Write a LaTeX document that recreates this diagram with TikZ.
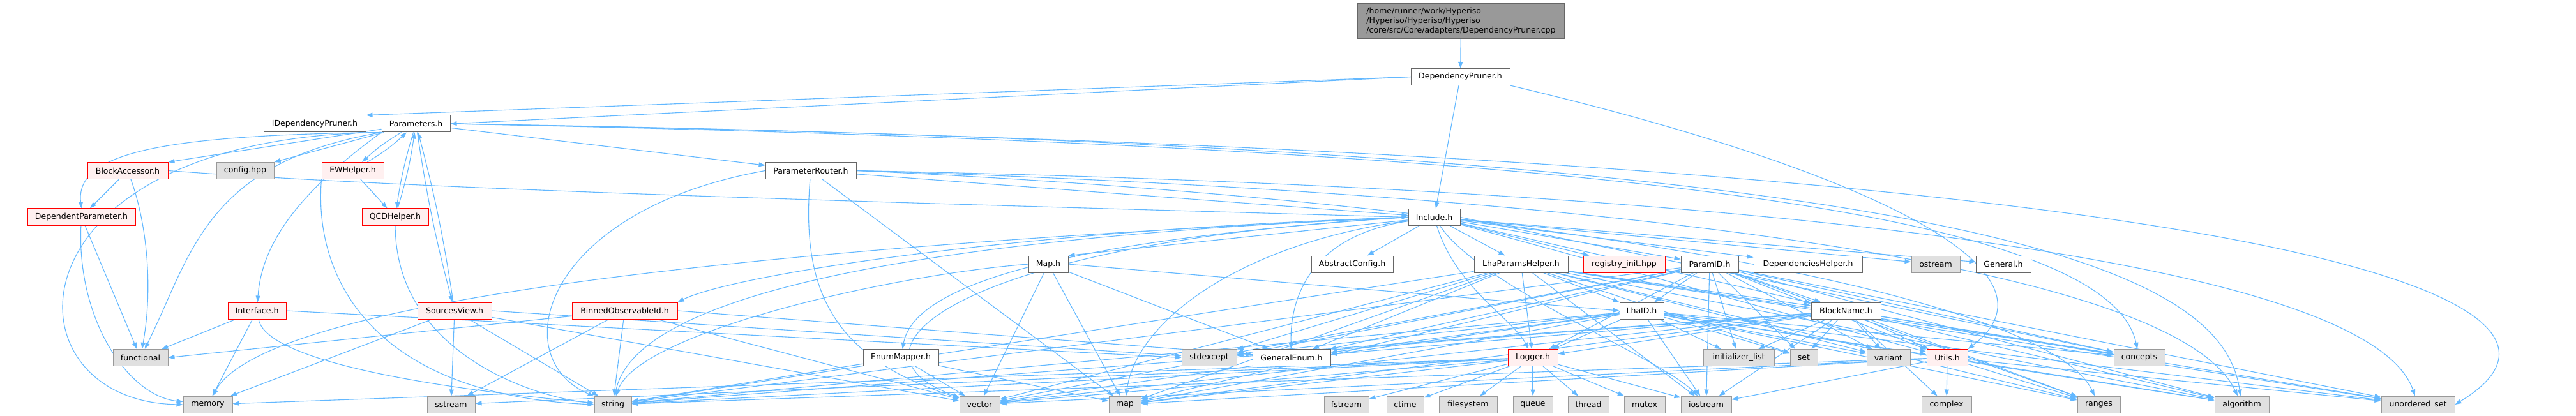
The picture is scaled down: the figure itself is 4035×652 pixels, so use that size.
\documentclass[tikz,border=0pt]{standalone}
\usepackage{fontspec}
\setmainfont{DejaVu Sans}
\usetikzlibrary{arrows.meta}
\definecolor{edgec}{HTML}{63B8FF}
\definecolor{redfill}{HTML}{FFF0F0}
\definecolor{reddraw}{HTML}{FF0000}
\definecolor{grayfill}{HTML}{E0E0E0}
\definecolor{graydraw}{HTML}{999999}
\definecolor{whitedraw}{HTML}{666666}
\definecolor{topfill}{HTML}{999999}
\pgfdeclarelayer{edgelayer}
\pgfsetlayers{edgelayer,main}
\begin{document}
\begin{tikzpicture}[x=1pt,y=-1pt,
  nb/.style={draw=whitedraw, fill=white, line width=1pt, minimum height=26pt, inner sep=2pt, font=\fontsize{12.5}{15}\selectfont},
  nr/.style={nb, draw=reddraw, fill=redfill},
  ng/.style={nb, draw=graydraw, fill=grayfill},
  e/.style={draw=edgec, line width=1.1pt, -{Triangle[length=10pt,width=7pt]}}]
\useasboundingbox (0,0) rectangle (4035,652);
% row 0
\node[nb, fill=topfill, align=left, anchor=north west, minimum width=324pt, minimum height=55pt] (top) at (2126,5) {/home/runner/work/Hyperiso\\/Hyperiso/Hyperiso/Hyperiso\\/core/src/Core/adapters/DependencyPruner.cpp};
\node[nb, minimum width=155pt] (dph) at (2287.5,120.5) {DependencyPruner.h};
% row 1
\node[nb, minimum width=160pt] (idp) at (493,194) {IDependencyPruner.h};
\node[nb, minimum width=107pt] (par) at (651.5,194) {Parameters.h};
% row 2
\node[nr, minimum width=126pt] (ba) at (200,267.5) {BlockAccessor.h};
\node[ng, minimum width=90pt] (cfg) at (384,267.5) {config.hpp};
\node[nr, minimum width=97pt] (ew) at (552.5,267.5) {EWHelper.h};
\node[nb, minimum width=142pt] (pr) at (1270,267.5) {ParameterRouter.h};
% row 3
\node[nr, minimum width=169pt] (depp) at (127.5,340) {DependentParameter.h};
\node[nr, minimum width=104pt] (qcd) at (619,340) {QCDHelper.h};
\node[nb, minimum width=81pt] (inc) at (2246.5,340.5) {Include.h};
% row 4
\node[nb, minimum width=62pt] (mapH) at (1642,414) {Map.h};
\node[nb, minimum width=128pt] (absc) at (2118,414) {AbstractConfig.h};
\node[nb, minimum width=147pt] (lph) at (2382.5,414) {LhaParamsHelper.h};
\node[nr, minimum width=128pt] (reg) at (2544,414) {registry\_init.hpp};
\node[nb, minimum width=90pt] (pid) at (2678,414) {ParamID.h};
\node[nb, minimum width=170pt] (deph) at (2832,414) {DependenciesHelper.h};
\node[ng, minimum width=76pt] (ostream) at (3032,414) {ostream};
\node[nb, minimum width=86pt] (general) at (3138,414) {General.h};
% row 5
\node[nr, minimum width=91pt] (intf) at (402.5,487) {Interface.h};
\node[nr, minimum width=116pt] (sv) at (712,487) {SourcesView.h};
\node[nr, minimum width=165pt] (boi) at (978.5,487) {BinnedObservableId.h};
\node[nb, minimum width=69pt] (lhaid) at (2571.5,487) {LhaID.h};
\node[nb, minimum width=109pt] (bname) at (2891.5,487) {BlockName.h};
% row 6
\node[ng, minimum width=86pt] (functional) at (220,560.5) {functional};
\node[nb, minimum width=118pt] (enumm) at (1411,560.5) {EnumMapper.h};
\node[ng, minimum width=86pt] (stdexcept) at (1894,560.5) {stdexcept};
\node[nb, minimum width=122pt] (gene) at (2023,560.5) {GeneralEnum.h};
\node[nr, minimum width=78pt] (logger) at (2401,560.5) {Logger.h};
\node[ng, minimum width=111pt] (initl) at (2723.5,560.5) {initializer\_list};
\node[ng, minimum width=43pt] (sset) at (2825.5,560.5) {set};
\node[ng, minimum width=68pt] (variant) at (2958,560.5) {variant};
\node[nr, minimum width=64pt] (utils) at (3050,560.5) {Utils.h};
\node[ng, minimum width=80pt] (concepts) at (3351,560.5) {concepts};
% row 7
\node[ng, minimum width=77pt] (memory) at (325.5,634) {memory};
\node[ng, minimum width=75pt] (sstream) at (706.5,634) {sstream};
\node[ng, minimum width=58pt] (sstring) at (960,634) {string};
\node[ng, minimum width=63pt] (svector) at (1534.5,634) {vector};
\node[ng, minimum width=50pt] (smap) at (1762,634) {map};
\node[ng, minimum width=70pt] (fstream) at (2109,634) {fstream};
\node[ng, minimum width=58pt] (ctime) at (2201,634) {ctime};
\node[ng, minimum width=91pt] (filesystem) at (2299.5,634) {filesystem};
\node[ng, minimum width=62pt] (queue) at (2401,634) {queue};
\node[ng, minimum width=64pt] (thread) at (2488,634) {thread};
\node[ng, minimum width=64pt] (mutex) at (2576,634) {mutex};
\node[ng, minimum width=79pt] (iostream) at (2672.5,634) {iostream};
\node[ng, minimum width=78pt] (complex) at (3049,634) {complex};
\node[ng, minimum width=67pt] (ranges) at (3287.5,634) {ranges};
\node[ng, minimum width=85pt] (algorithm) at (3511.5,634) {algorithm};
\node[ng, minimum width=115pt] (uset) at (3787.5,634) {unordered\_set};

\begin{pgfonlayer}{edgelayer}
% top / DependencyPruner.h
\draw[e] (top) -- (dph);
\draw[e] (dph.west) -- (idp.north east);
\draw[e] (dph.west) -- (par.east);
\draw[e] (dph) -- (inc);
\draw[e] (dph.south east) .. controls (2900,260) and (3250,420) .. (utils.north east);
% Parameters.h
\draw[e] (par) -- (ba.north east);
\draw[e] (par) -- (cfg.north east);
\draw[e] (par) to[bend right=6] (ew);
\draw[e] (ew) to[bend right=6] (par);
\draw[e] (par) to[bend right=4] (qcd);
\draw[e] (qcd) to[bend right=4] (par);
\draw[e] (par) to[bend right=3] (sv);
\draw[e] (sv) to[bend right=3] (par);
\draw[e] (par.south west) .. controls (470,300) and (410,380) .. (intf);
\draw[e] (par.south west) .. controls (250,212) and (118,240) .. (depp.north);
\draw[e] (par.south west) .. controls (0,215) and (0,630) .. (memory.west);
\draw[e] (par.south west) .. controls (320,255) and (300,400) .. (functional);
\draw[e] (par) -- (pr);
\draw[e] (par.east) .. controls (3700,245) and (4100,480) .. (uset.east);
\draw[e] (par.east) .. controls (3100,230) and (3480,420) .. (algorithm);
\draw[e] (par.east) .. controls (2500,230) and (3300,330) .. (concepts);
% EWHelper / QCDHelper
\draw[e] (ew) -- (qcd);
\draw[e] (ew.south west) .. controls (490,450) and (600,620) .. (sstring.west);
\draw[e] (qcd) .. controls (620,560) and (850,625) .. (sstring);
% BlockAccessor / DependentParameter
\draw[e] (ba) -- (depp);
\draw[e] (ba) .. controls (230,350) and (240,450) .. (functional);
\draw[e] (ba.east) .. controls (700,300) and (1500,320) .. (inc.west);
\draw[e] (depp) -- (functional);
\draw[e] (depp) .. controls (120,500) and (200,620) .. (memory);
% Interface / SourcesView / BinnedObservableId
\draw[e] (intf) -- (functional);
\draw[e] (intf) -- (memory);
\draw[e] (intf) .. controls (420,580) and (800,620) .. (sstring);
\draw[e] (intf.east) -- (stdexcept.west);
\draw[e] (sv) -- (memory);
\draw[e] (sv) -- (sstream);
\draw[e] (sv) -- (sstring);
\draw[e] (sv.east) -- (stdexcept);
\draw[e] (sv) -- (svector);
\draw[e] (boi) -- (functional.east);
\draw[e] (boi) -- (sstream);
\draw[e] (boi) -- (sstring);
\draw[e] (boi) -- (svector);
\draw[e] (boi.east) -- (gene);
% ParameterRouter
\draw[e] (pr) -- (inc);
\draw[e] (pr.west) .. controls (850,330) and (790,560) .. (sstring);
\draw[e] (pr) .. controls (1255,450) and (1300,560) .. (svector);
\draw[e] (pr) -- (smap);
\draw[e] (pr.east) .. controls (2500,290) and (3700,380) .. (uset);
\draw[e] (pr.east) .. controls (2400,300) and (3400,400) .. (algorithm);
\draw[e] (pr.east) .. controls (2300,310) and (3200,450) .. (ranges);
% Include.h
\foreach \t in {absc, lph, reg, pid, deph, ostream, general, bname, utils} \draw[e] (inc) -- (\t);
\draw[e] (inc) -- (mapH.north east);
\draw[e] (inc.west) .. controls (1600,360) and (1150,430) .. (boi.north east);
\draw[e] (inc.west) .. controls (1600,380) and (1430,460) .. (enumm);
\draw[e] (inc) .. controls (2050,370) and (2020,470) .. (gene);
\draw[e] (inc) .. controls (2280,450) and (2370,500) .. (logger);
\draw[e] (inc) .. controls (1950,380) and (1780,500) .. (smap);
\draw[e] (inc.west) .. controls (1500,380) and (1300,550) .. (svector);
\draw[e] (inc.west) .. controls (1500,370) and (1000,450) .. (sstring);
\draw[e] (inc.west) .. controls (900,400) and (400,500) .. (memory);
\draw[e] (inc) .. controls (2320,450) and (2600,560) .. (iostream);
\draw[e] (inc.east) -- (concepts);
% Map.h / EnumMapper.h
\foreach \t in {svector, smap, gene} \draw[e] (mapH) -- (\t);
\draw[e] (mapH.west) .. controls (1400,430) and (1000,520) .. (sstring);
\draw[e] (mapH.east) -- (lhaid.west);
\foreach \t in {svector, smap, sstring} \draw[e] (enumm) -- (\t);
% LhaParamsHelper.h
\foreach \t in {lhaid, logger, gene, stdexcept, svector, smap, sstring, iostream, bname, uset, algorithm, sset, variant, ranges, concepts} \draw[e] (lph) -- (\t);
% ParamID.h
\foreach \t in {lhaid, bname, logger, gene, stdexcept, initl, sset, variant, utils, concepts, svector, smap, sstring, iostream, uset, ranges, algorithm} \draw[e] (pid) -- (\t);
% LhaID.h
\foreach \t in {logger, gene, stdexcept, initl, sset, variant, concepts, smap, svector, sstring, iostream, uset, algorithm, ranges, utils} \draw[e] (lhaid) -- (\t);
% BlockName.h
\foreach \t in {initl, sset, variant, utils, concepts, iostream, sstring, svector, smap, uset, algorithm, ranges, complex, gene, stdexcept, logger} \draw[e] (bname) -- (\t);
% Utils.h
\foreach \t in {complex, iostream, sstring, svector, smap, ranges, algorithm, uset} \draw[e] (utils) -- (\t);
% Logger.h
\foreach \t in {fstream, ctime, filesystem, queue, thread, mutex, iostream, sstring, sstream, memory, smap, svector} \draw[e] (logger) -- (\t);
\end{pgfonlayer}
\end{tikzpicture}
\end{document}
